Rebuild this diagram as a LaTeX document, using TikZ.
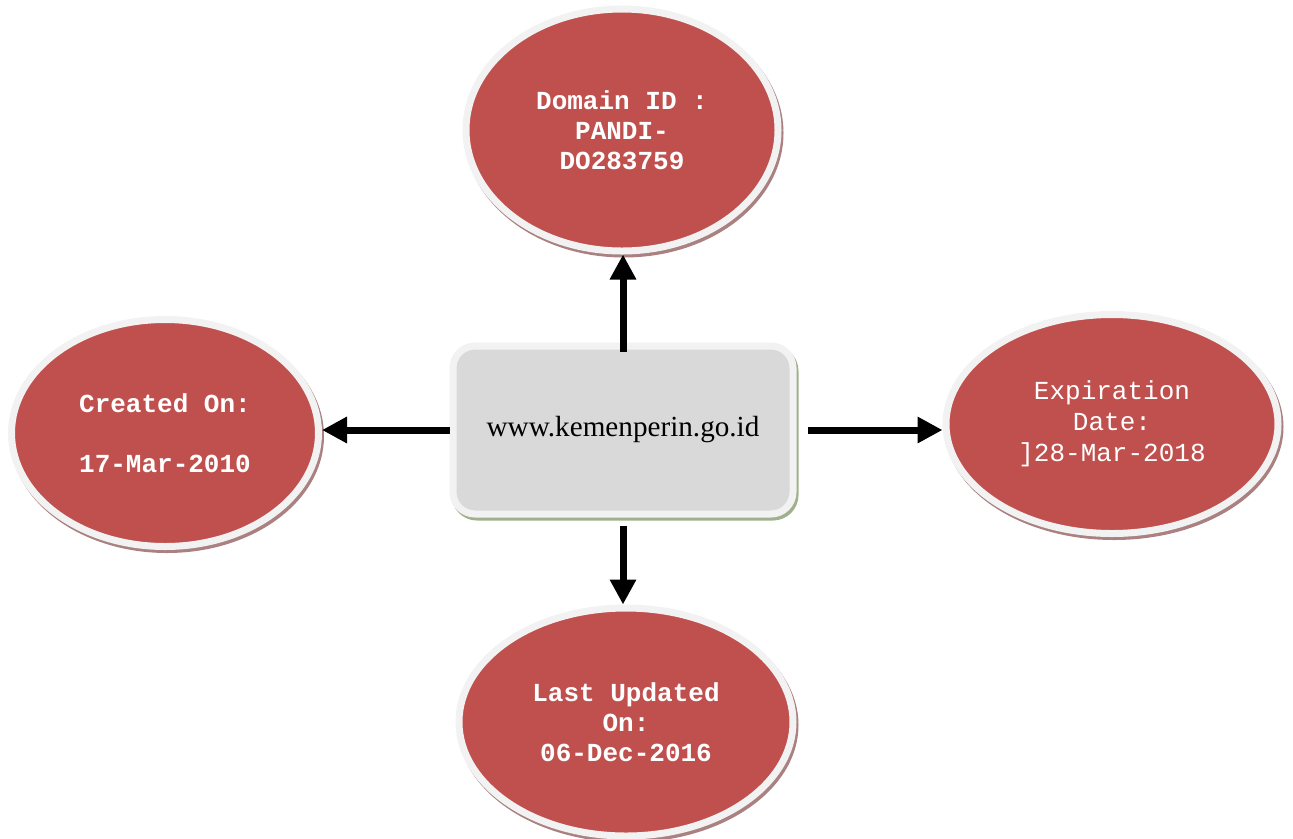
\documentclass[tikz,border=0pt]{standalone}
\usepackage{fontspec}
\setmainfont{Liberation Serif}
\setmonofont{Liberation Mono}
\usetikzlibrary{shapes.geometric,arrows.meta,shadows}

\definecolor{infored}{HTML}{C0504D}
\definecolor{rimgray}{HTML}{F2F2F2}
\definecolor{redshade}{RGB}{170,128,128}
\definecolor{boxgray}{HTML}{D9D9D9}
\definecolor{boxshade}{RGB}{160,176,140}

\tikzset{
  info/.style={ellipse, fill=infored, draw=rimgray, line width=0.14cm, inner sep=0pt,
    text=white, align=center, font=\ttfamily\bfseries\fontsize{14.8}{17}\selectfont,
    drop shadow={shadow xshift=0.04cm, shadow yshift=-0.06cm, fill=redshade,
      draw=redshade, line width=0.14cm, opacity=1}},
  infolight/.style={info, font=\ttfamily\fontsize{14.8}{17.6}\selectfont},
  site/.style={rectangle, rounded corners=0.44cm, fill=boxgray, draw=rimgray,
    line width=0.14cm, minimum width=6.8cm, minimum height=3.36cm,
    font=\fontsize{16.6}{20}\selectfont,
    drop shadow={shadow xshift=0.04cm, shadow yshift=-0.06cm, fill=boxshade,
      draw=boxshade, line width=0.14cm, opacity=1}},
  link/.style={line width=0.14cm, -{Triangle[length=0.5cm, width=0.5cm]}}
}

\begin{document}
\begin{tikzpicture}

\useasboundingbox (0,0) rectangle (25.86,-16.76);

\node [site] (web) at (12.46,-8.6) {www.kemenperin.go.id};

\node [info, minimum width=6.24cm, minimum height=4.84cm] (domain) at (12.44,-2.6)
  {Domain ID :\\PANDI-\\DO283759};
\node [info, minimum width=6.14cm, minimum height=4.54cm] (created) at (3.3,-8.66)
  {Created On:\\[17pt]17-Mar-2010};
\node [infolight, minimum width=6.64cm, minimum height=4.38cm] (expire) at (22.24,-8.48)
  {Expiration\\Date:\\]28-Mar-2018};
\node [info, minimum width=6.68cm, minimum height=4.56cm] (updated) at (12.52,-14.44)
  {Last Updated\\On:\\06-Dec-2016};

\begin{scope}[link]
\draw [shorten <=-0.18cm] (web.north) -- (web.north |- domain.south);
\draw (web.west) -- (web.west -| created.east);
\draw [shorten <=0.22cm] (web.east) -- (web.east -| expire.west);
\draw [shorten <=0.16cm] (web.south) -- (web.south |- updated.north);
\end{scope}

\end{tikzpicture}
\end{document}
